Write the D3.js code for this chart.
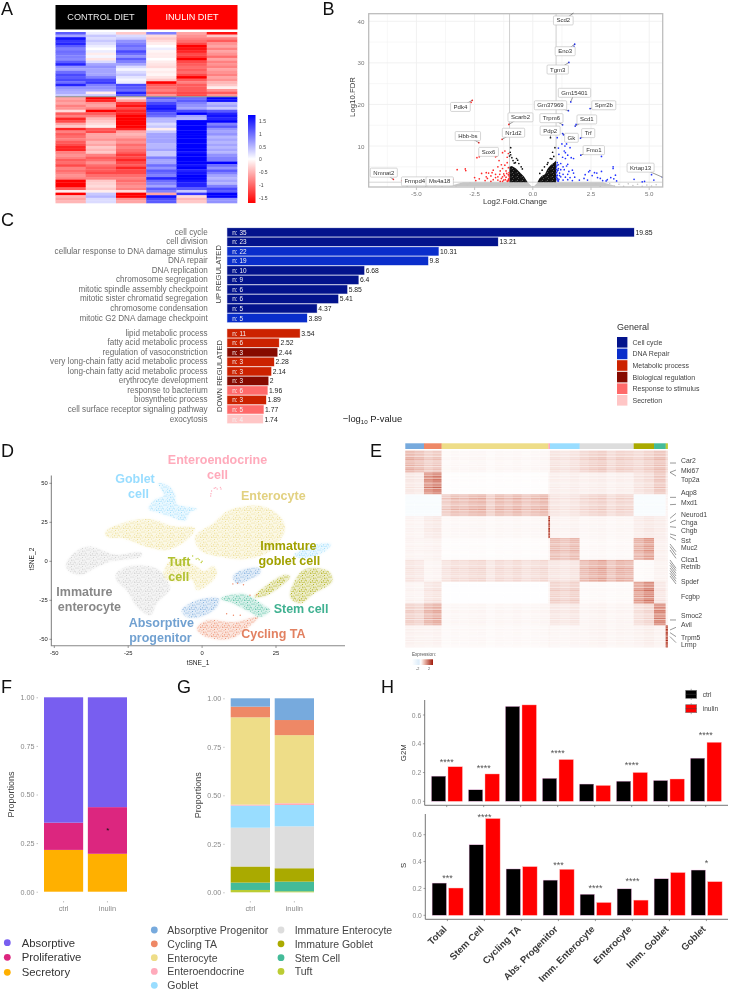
<!DOCTYPE html>
<html><head><meta charset="utf-8">
<script src="https://cdnjs.cloudflare.com/ajax/libs/d3/7.8.5/d3.min.js"></script>
<style>html,body{margin:0;padding:0;background:#fff}svg{display:block;filter:blur(.35px)}text{font-family:"Liberation Sans",Arial,sans-serif}</style>
</head><body><svg id="c" width="730" height="991"></svg>
<script>
// ---------- Panel A data
const hmA1=[.9,.5,1.3,1.1,1.2,.9,.7,.8,.75,.7,.65,.9,1.2,.6,.5,.8,1,.9,1,.8,1.2,.6,.5,.45,.3,-.5,-.6,-.5,-.7,-.6,-.2,-.9,-.7,-1.2,-1,-.5,-.3,-1.2,-.7,-.9,-.8,-.7,-.9,-1,-1.2,-1.2,-.7,-.6,-.7,-.9,-.8,-1,-.7,-.8,-.7,-.6,-.7,-1.4,-1.5,-1.5,-.9,-.1,-1.4,-.4,-.5,-.4];
const hmA2=[.1,.3,.2,.3,.2,.1,0,.1,-.1,.05,-.15,.2,.5,.6,.5,.5,.5,.7,1,1.1,.7,.6,.5,-.1,.3,-1.5,-1.2,-.6,-.5,-.7,-1.4,-.9,-.7,-.4,-.3,-.2,-.1,-.9,-1,-.5,-.5,-.6,-.4,-.5,-.3,-.4,-.3,-.7,-.9,-.8,-.6,-.8,-.9,-.9,-1,-.8,-.7,-.3,-.25,-.2,-.3,-.1,.3,.4,.2,.2];
const hmA3=[-.3,.2,.3,.6,.7,.8,.7,1,.8,.6,.9,.7,.5,.2,.05,.2,.3,.15,.05,.1,1,.9,.8,1.2,.9,-.2,-.5,-1.1,-1.3,-1,-1.2,-1.2,-1.5,-1.5,-1.4,-1.4,-1.5,-1.2,-.5,-.4,-.5,-.7,-.6,-.8,-.7,-.8,-.9,-1.1,-1,-1.2,-1,-.9,-1.2,-1,-1,-.8,-.7,-.8,-.7,-.6,-.7,-.2,-1.5,-1.5,-.6,-.5];
const hmA4=[.7,-.2,-.3,-.2,-.1,0,.1,-.05,-.1,-.1,0,-.1,-.15,-.2,-.05,-.1,-.05,-.15,-.3,-1.4,-.9,-.8,-.7,-.9,-.6,.9,.7,1,1.2,1.3,1.1,.9,.8,.4,.4,.2,.3,-.1,.3,.5,.5,.5,.5,.4,.4,.5,.3,.3,.7,.5,.5,.8,.6,.9,.8,.7,1.2,.8,.7,.5,.9,.7,-.5,1.3,1,.9];
const hmA5=[-.5,-.6,-.7,-.8,-1,-1.4,-1.3,-1.2,-1,-1.1,-1.4,-1,-.9,-.8,-.9,-.8,-1,-1.4,-.9,-.7,-.9,-.9,-.9,-1,-1,.8,.9,.7,.6,.5,1,1.4,.5,.4,1.5,1.5,1.6,1.5,1.5,1.5,1.4,1.4,1.5,1.5,1.5,1.4,1.3,1.4,1.5,1.5,1.4,1.3,1.4,1.2,1.3,1.4,1.5,1.3,1.2,1.2,.9,.3,1.1,-.2,-.4,-.3];
const hmA6=[-1.3,-.3,-.7,-.9,-.6,-.5,-.7,-.5,-.6,-.8,-.5,-.7,-.6,-.7,-.5,-.6,-.7,-.5,-.6,-.4,-.3,-.1,-.6,-.9,-.6,1.5,1.3,.4,.5,.3,.9,1.2,1.3,1.2,1.4,.7,.9,.6,.5,.6,.4,.5,.4,.5,.4,.5,.4,.6,.7,.7,1.4,.8,.6,.9,.7,.5,.4,.5,.4,.7,1,.9,1.4,1.6,.6,.6];
const hmATicks=[1.5,1,.5,0,-.5,-1,-1.5];
// ---------- Panel B data
const volBlue=[[1.75,42],[1.8,34.5],[1.77,34],[1.55,30.1],[1.63,20.6],[1.53,18.5],[2.46,19],[1.28,15.1],[1.82,14.8],[1.86,15.2],[1.28,13],[1.32,12.7],[2.05,11.9],[2.15,12.2],[1.05,12],[1.38,10],[1.25,10.5],[1.45,10.5],[1.1,9.5],[1.6,9.6],[1.35,8.8],[1.4,8.4],[2.06,7.8],[1.12,8],[1.5,7.8],[1.28,7.3],[1.4,7],[1.65,7.2],[1.75,7],[2.95,7.5],[1.05,6],[1.1,5.5],[1.2,5.8],[1.3,5],[1.5,5.6],[1.45,5.2],[1.02,5],[1.1,4.6],[1.2,4.3],[1.35,4.3],[1.55,3.9],[1.7,4.2],[1.05,4],[1.15,3.5],[1.3,3.2],[1.5,3.2],[1.75,3.5],[1.05,3],[1.2,2.6],[1.4,2.5],[1.6,2.4],[1.8,2.5],[1.02,2.4],[1.12,2],[1.3,1.8],[1.5,1.9],[1.7,1.7],[2,1.8],[1.1,1.6],[2.2,2.2],[2.25,3.1],[2.35,1.8],[2.4,3.8],[2.45,4.1],[2.55,2.9],[2.65,3.6],[2.75,3.5],[2.78,2.4],[2.9,2.2],[2.95,3.9],[3,1.7],[3.15,1.6],[3.2,1.9],[3.35,2.4],[3.45,4.6],[3.45,5],[3.48,2.1],[3.55,3],[3.6,1.6],[4.35,2],[4.7,1.4],[4.8,1.5],[5.1,3.1],[5.2,1.8],[5.57,2.5],[1.02,3.6],[1.03,2.8],[1.06,2.2],[1.08,1.6],[1.04,1.9],[1.15,2.9],[1.08,4.2],[1.02,4.4],[1.04,5.4]];
const volRed=[[-2.6,21],[-2.65,20.5],[-1.03,15.2],[-1.32,11.6],[-2.32,10.8],[-1.55,7.6],[-1.6,7.4],[-1.3,8.4],[-1.2,8.8],[-1.05,8.2],[-1.1,7.3],[-2.4,7.2],[-2.3,7.4],[-3.25,4.3],[-2.9,4.5],[-2.88,4.1],[-1.45,6.5],[-1.35,5.5],[-1.1,6],[-1.2,5.4],[-1.5,5],[-1.7,4.2],[-1.9,3.5],[-2,3.6],[-2.2,3.4],[-1.3,4.6],[-1.05,4.8],[-1.15,4],[-1.4,4],[-1.6,3.2],[-1.8,2.8],[-1.25,3.3],[-1.05,3.1],[-1.5,2.6],[-1.35,2.2],[-1.15,2.5],[-1.05,2],[-1.25,1.8],[-1.5,1.8],[-1.7,1.9],[-1.95,2.2],[-2.05,1.7],[-2.3,2.1],[-2.5,2.4],[-2.45,1.7],[-1.1,1.6],[-1.4,1.5],[-1.8,1.5],[-5.99,2],[-5.63,1.7],[-3.44,2],[-2,2.6],[-1.75,3.6],[-1.02,3.6],[-1.02,2.8],[-1.08,1.5],[-1.02,2.2],[-1.12,3.4],[-1.22,2.9],[-1.03,1.7],[-1.3,1.5],[-1.18,1.9],[-1.42,3.2],[-1.6,2.4],[-1.3,2.6]];
const volBlack=[[.76,12],[.95,9.6],[.85,8.5],[.9,7.5],[.75,7],[.65,6],[.5,5],[.4,4.2],[-.95,9.6],[-.97,8.5],[-1,7.6],[-.95,7.9],[-.7,7],[-.65,6.6],[-.6,5.8],[-.85,6.5],[-.75,6],[-.5,5],[-.45,4.5],[.3,3.4],[.62,5.6],[.82,6.9],[-.9,7.2],[-.8,5.9]];
const volGray=[[-5,.6],[-4.6,.3],[-4.2,.5],[-3.9,.2],[-3.6,.8],[-3.3,.4],[-3.1,1],[-2.8,.6],[3.1,.6],[3.3,1],[3.5,.4],[3.7,.8],[3.9,.3],[4.1,.9],[4.3,.5],[4.5,.8],[4.7,.3],[4.9,.6],[5.1,.4],[5.3,.7],[-5.4,.3],[2.7,.9],[2.9,.3],[-2.7,1.1]];
const volBlackAreaR=[[.2,1.3],[.28,2.2],[.38,2.8],[.52,3.2],[.64,4.6],[.76,5.4],[.9,6],[1,6.5],[1,1.3]];
const volBlackAreaL=[[-1,1.3],[-1,5],[-.9,5.2],[-.72,4.6],[-.58,3.8],[-.38,2.7],[-.22,1.3]];
const volGrayArea=[[-3,1.3],[-.22,1.3],[0,.05],[.22,1.3],[3,1.3],[3.6,.3],[-3.6,.3]];
const volLabels=[["Scd2",1.31,40.2,1.75,42],["Eno3",1.39,32.8,1.8,34.5],["Tgm3",1.07,28.4,1.55,30.1],["Gm15401",1.79,22.8,1.63,20.65],["Gm37969",.76,19.8,1.53,18.5],["Sprr2b",3.05,19.8,2.46,19],["Trpm6",.8,16.7,1.28,15.1],["Scd1",2.32,16.4,1.82,14.8],["Pdp2",.745,13.7,.76,12],["Trf",2.38,13.1,2.05,11.9],["Gk",1.66,11.98,1.28,13],["Fmo1",2.62,9,2.06,7.8],["Krtap13",4.63,4.8,5.57,2.5],["Pdk4",-3.11,19.4,-2.6,21],["Scarb2",-.53,16.9,-1.03,15.2],["Nr1d2",-.83,13.2,-1.32,11.6],["Hbb-bs",-2.79,12.4,-2.32,10.8],["Sox6",-1.9,8.6,-1.55,7.6],["Nmnat2",-6.4,3.6,-5.99,2],["Frmpd4",-5.07,1.5,-5.63,1.7],["Ms4a18",-4,1.5,-3.44,2]];
// ---------- Panel C data
const goUpTerms=["cell cycle","cell division","cellular response to DNA damage stimulus","DNA repair","DNA replication","chromosome segregation","mitotic spindle assembly checkpoint","mitotic sister chromatid segregation","chromosome condensation","mitotic G2 DNA damage checkpoint"];
const goUpValues=[19.85,13.21,10.31,9.8,6.68,6.4,5.85,5.41,4.37,3.89];
const goUpN=[35,23,22,19,10,9,6,6,5,5];
const goUpGroup=[0,0,1,1,0,0,0,0,0,1];
const goDownTerms=["lipid metabolic process","fatty acid metabolic process","regulation of vasoconstriction","very long-chain fatty acid metabolic process","long-chain fatty acid metabolic process","erythrocyte development","response to bacterium","biosynthetic process","cell surface receptor signaling pathway","exocytosis"];
const goDownValues=[3.54,2.52,2.44,2.28,2.14,2,1.96,1.89,1.77,1.74];
const goDownN=[11,6,3,3,3,3,6,3,5,4];
const goDownGroup=[2,2,3,2,2,3,4,2,4,5];
const goGroups=["Cell cycle","DNA Repair","Metabolic process","Biological regulation","Response to stimulus","Secretion"];
const goColors=["#03138c","#0a2ecb","#cc2200","#860a00","#ff6a6a","#ffc6c6"];
// ---------- Panel D data (outlines of the point clouds in tSNE coordinates)
const tsneColors={ap:"#77AADD",cy:"#EE8866",ec:"#EEDD88",ee:"#FFAABB",go:"#99DDFF",ie:"#DDDDDD",ig:"#AAAA00",st:"#44BB99",tu:"#BBCC33"};
const tsneClouds=[
["go",[[-14.8,50],[-11.4,48.5],[-9.2,43.2],[-8.6,36.8],[-5.2,35.1],[-1.8,33.6],[-4.1,31.5],[-5.7,26.1],[-10.8,28.7],[-15.3,31.5],[-18.1,33.6],[-16.4,39],[-13,42.2]]],
["go",[[31,4],[37.8,10.5],[43.6,11.2],[42.9,8.3],[37.8,3],[33.2,1.9]]],
["ec",[[-2.4,15.8],[3.8,24.4],[8.3,31.9],[13.9,35.1],[20.7,35.1],[26.4,28.7],[28.1,21.2],[26.4,13.7],[21.9,5.1],[14,1.3],[6,3],[-.7,7.3]]],
["ec",[[-32.8,19],[-25.4,25.4],[-17.5,27],[-9.6,22.4],[-2.4,21.2],[-5.2,13.7],[-12,7.3],[-18.8,9.4],[-26.8,14.7],[-32.2,15.8]]],
["ec",[[-13,-6.4],[-9.6,1.9],[-1.8,-3.4],[.5,-6.4],[3.8,-3],[5,-7.7],[2.7,-14.1],[-1.8,-18.4],[-3.4,-12],[-8.5,-13],[-13,-10.9]]],
["ie",[[-46,-1.3],[-42,7.3],[-37.5,9.4],[-29.6,4.3],[-20.6,5.6],[-20.6,3],[-31,-.2],[-36.4,-4.5],[-41,-8.8],[-45.5,-5.6]]],
["ie",[[-29,-7.7],[-24.5,-3],[-15.5,-4.5],[-12,-12],[-10.8,-17.5],[-15.3,-27],[-17.5,-34.6],[-22,-29.3],[-25.6,-18.6],[-29,-12]]],
["ap",[[10.4,-9.8],[13.4,-5.6],[19.6,-4.5],[19.6,-7.7],[15.7,-12],[11.6,-14.1]]],
["ap",[[-6.9,-31.4],[-1.8,-25],[5.6,-23.9],[5,-29.3],[-.7,-35.7],[-5.2,-35.7]]],
["cy",[[-1.8,-43.2],[1.6,-37.8],[10.6,-38.9],[19,-35.7],[15,-43.2],[9.5,-49.7],[1.6,-48.6]]],
["st",[[6.2,-24],[14,-21],[20.7,-28],[23,-31.4],[19.6,-35.7],[16.2,-32.5],[10.6,-27]]],
["ig",[[17.5,-22.9],[27.6,-8.8],[29.8,-9.8],[22,-21.8]]],
["ig",[[29.8,-22.9],[34.3,-5.6],[42.9,-6.6],[44,-13],[37.8,-20.7],[33.2,-27]]]
];
const tsneExtras=[["ee",[[2.9,41.9],[3.2,45.1],[4.1,46.8],[5.1,46.3],[6.2,47.4],[6.4,46.3],[3,43.3],[4.6,47.2]]],["tu",[[-2,1.5],[-1,1],[0,0],[-3.2,3.4],[-1.4,1.9],[-.3,-.8]]],["cy",[[10.4,-14.5],[12,-14.1],[14,-15],[16.2,-21.8],[18.5,-21.4],[8.3,-33.6],[10.6,-34.6],[12.9,-34.6]]]];
const tsneXTicks=[-50,-25,0,25];
const tsneYTicks=[-50,-25,0,25,50];
const tsneLabels=[["Goblet",-22.7,52.6,"go"],["cell",-21.5,43.1,"go"],["Enteroendocrine",5.2,65.1,"ee"],["cell",5.2,55.3,"ee"],["Enterocyte",24.1,41.9,"ec"],["Immature",29.2,10,"ig"],["goblet cell",29.5,.2,"ig"],["Tuft",-7.8,-.4,"tu"],["cell",-7.9,-10.3,"tu"],["Immature",-39.8,-19.5,"#888"],["enterocyte",-38.1,-29.1,"#888"],["Stem cell",33.5,-30.4,"st"],["Absorptive",-13.8,-39.4,"ap"],["progenitor",-14.1,-49.2,"ap"],["Cycling TA",24.1,-46.6,"cy"]];
// ---------- Panel E data
const rowBlocks=["ap","cy","ec","ee","go","ie","ig","st","tu"];
const colBlocks=["ap","cy","ec","ee","go","ie","ig","st","tu"];
const colWidths=[56,53,320,5,89,162,61,35,6];
const exprAP=[.62,.5,.07,.1,.24,.42,.42,.5,.3];
const exprCY=[.2,1.12,.02,.1,.14,.14,.3,.45,.2];
const exprEC=[-.2,-.2,.58,.3,.22,.38,-.2,-.2,.1];
const exprEE=[.1,.2,.07,1.5,.1,.08,.2,.15,.1];
const exprGO=[.1,.12,.03,.1,.55,.06,.85,.12,.1];
const exprIE=[.22,.1,.3,.2,.22,.68,.05,.1,.1];
const exprIG=[.1,.25,-.03,.1,.38,.05,1.05,.2,.1];
const exprST=[.4,.72,.08,.1,.2,.1,.35,.95,.1];
const exprTU=[.12,.12,.06,.1,.08,.1,.15,.1,1.5];
const rowTexture=[1.15,.8,1.05,.65,1.2,.9,.55,1.1,.85,1.25,.7,1,.6,1.15,.95,.75,1.3,.5,1,.85,1.2,.65,1.05,.9];
const colTexture=[1.05,.9,1.1,.85,1,1.12,.78,1,.92,1.08,1.15,.72];
const geneNames=["Car2","Mki67","Top2a","Aqp8","Mxd1","Neurod1","Chga","Chgb","Sst","Muc2","Clca1","Retnlb","Spdef","Fcgbp","Smoc2","Avil","Trpm5","Lrmp"];
const genePos=[30,60,85,126,154,190,214,238,268,290,326,347,393,439,496,521,561,581];
const geneLinks=[[37,37],[65,58],[65,76],[140,140],[162,161],[203,188],[216,208],[228,230],[250,255],[258,268],[280,303],[288,313],[298,323],[328,353],[336,360],[344,368],[352,376],[360,384],[368,392],[376,400],[508,508],[538,530],[546,558],[558,576]];
// ---------- Panel F data
const propGroups=["ctrl","inulin"];
const fAbsorptive=[.645,.565];
const fProliferative=[.14,.24];
const fSecretory=[.215,.195];
const fNames=["Secretory","Proliferative","Absorptive"];
const fColors=["#FFB000","#DC267F","#785EF0"];
const propTicks=[0,.25,.5,.75,1];
// ---------- Panel G data
const gTuft=[.012,.005];
const gStem=[.038,.05];
const gImmGoblet=[.083,.069];
const gImmEnterocyte=[.2,.216];
const gGoblet=[.114,.11];
const gEnteroendocrine=[.005,.009];
const gEnterocyte=[.45,.351];
const gCycling=[.055,.078];
const gAbsProg=[.043,.112];
const gNames=["Absorptive Progenitor","Cycling TA","Enterocyte","Enteroendocrine","Goblet","Immature Enterocyte","Immature Goblet","Stem Cell","Tuft"];
const gColors=["#77AADD","#EE8866","#EEDD88","#FFAABB","#99DDFF","#DDDDDD","#AAAA00","#44BB99","#BBCC33"];
// ---------- Panel H data
const hCats=["Total","Stem Cell","Cycling TA","Abs. Progenitor","Imm. Enterocyte","Enterocyte","Imm. Goblet","Goblet"];
const g2mCtrl=[.175,.08,.66,.16,.12,.14,.145,.30];
const g2mInulin=[.24,.19,.67,.29,.11,.20,.155,.41];
const sCtrl=[.24,.525,.345,.262,.157,.197,.272,.337];
const sInulin=[.203,.72,.362,.342,.095,.113,.318,.25];
const g2mStars=[["****",.287],["****",.245],null,["****",.352],null,["****",.269],null,["****",.477]];
const sStars=[["***",.295],["****",.75],null,["***",.39],["****",.22],["****",.27],null,["*",.405]];

const svg=d3.select("#c");
const defs=svg.append("defs");
const T=(g,x,y,s,o={})=>g.append("text").attr("x",x).attr("y",y).text(s)
  .attr("font-size",o.size||7).attr("fill",o.fill||"#333").attr("text-anchor",o.anchor||"start")
  .attr("dominant-baseline",o.base||"central").attr("font-weight",o.weight||"normal")
  .attr("font-family",o.family||null).attr("transform",o.rot?`rotate(${o.rot},${x},${y})`:null);
// Panel letters
[["A",1,14.7],["B",322.5,14.7],["C",1,226],["D",1,456.7],["E",370,457.3],["F",1,692.7],["G",177,692.7],["H",381,692.7]]
 .forEach(d=>T(svg,d[1],d[2],d[0],{size:18,fill:"#111",base:"auto",family:"'Open Sans',sans-serif"}));

// ===== A
(function(){
 const g=svg.append("g");
 const cols=[hmA1,hmA2,hmA3,hmA4,hmA5,hmA6];
 const nr=hmA1.length;
 const x=d3.scaleBand().domain(d3.range(6)).range([55.5,237]);
 const y=d3.scaleBand().domain(d3.range(nr)).range([32,203]);
 const col=d3.scaleLinear().domain([-1.4,0,1.4]).range(["#ff0000","#ffffff","#0000ff"]).clamp(true);
 cols.forEach((c,i)=>g.selectAll(null).data(c).join("rect").attr("x",x(i)).attr("width",x.bandwidth()+.3)
   .attr("y",(d,r)=>y(r)).attr("height",y.bandwidth()+.3).attr("fill",d=>col(d)));
 g.append("rect").attr("x",55.5).attr("width",181.5).attr("y",y(25)-.7).attr("height",1.2).attr("fill","#999");
 g.append("rect").attr("x",55.5).attr("y",5).attr("width",91.5).attr("height",24.5).attr("fill","#000");
 g.append("rect").attr("x",147).attr("y",5).attr("width",90.5).attr("height",24.5).attr("fill","#ff0000");
 T(g,101,17,"CONTROL DIET",{size:9.1,fill:"#e8e8e8",anchor:"middle",family:"'Open Sans',sans-serif"});
 T(g,192,17,"INULIN DIET",{size:9.1,fill:"#fff",anchor:"middle",family:"'Open Sans',sans-serif"});
 const gr=defs.append("linearGradient").attr("id","hmg").attr("x1",0).attr("x2",0).attr("y1",0).attr("y2",1);
 [[0,"#0000ff"],[.5,"#ffffff"],[1,"#ff0000"]].forEach(s=>gr.append("stop").attr("offset",s[0]).attr("stop-color",s[1]));
 g.append("rect").attr("x",248).attr("y",115).attr("width",7.5).attr("height",88).attr("fill","url(#hmg)");
 const ly=d3.scaleLinear().domain([1.5,-1.5]).range([121,197.5]);
 hmATicks.forEach(v=>T(g,259,ly(v),String(v),{size:5,fill:"#444"}));
})();

// ===== B
(function(){
 const g=svg.append("g");
 const x=d3.scaleLinear().domain([-7.05,5.58]).range([368.7,662.7]);
 const y=d3.scaleLinear().domain([0,40]).range([187.6,21.3]);
 const t=187,b=13.7;
 defs.append("clipPath").attr("id","vc").append("rect").attr("x",368.7).attr("y",13.7).attr("width",294).attr("height",173.3);
 const sp=defs.append("pattern").attr("id","blk").attr("patternUnits","userSpaceOnUse").attr("width",5).attr("height",4);
 sp.append("rect").attr("width",5).attr("height",4).attr("fill","#111");
 [[1,1],[3.6,2.8],[2.4,.4]].forEach(p=>sp.append("circle").attr("cx",p[0]).attr("cy",p[1]).attr("r",.32).attr("fill","#fff"));
 const pg=g.append("g").attr("clip-path","url(#vc)");
 d3.range(-7.5,5.6,1.25).forEach(v=>{pg.append("line").attr("x1",x(v)).attr("x2",x(v)).attr("y1",b).attr("y2",t).attr("stroke","#efefef").attr("stroke-width",Number.isInteger(v/2.5)?.9:.5);});
 d3.range(0,45,5).forEach(v=>{pg.append("line").attr("y1",y(v)).attr("y2",y(v)).attr("x1",368.7).attr("x2",662.7).attr("stroke","#efefef").attr("stroke-width",v%10==0?.9:.5);});
 [-1,1].forEach(v=>pg.append("line").attr("x1",x(v)).attr("x2",x(v)).attr("y1",b).attr("y2",t).attr("stroke","#c4c4c4").attr("stroke-width",.8));
 pg.append("line").attr("y1",y(1.3)).attr("y2",y(1.3)).attr("x1",368.7).attr("x2",662.7).attr("stroke","#c4c4c4").attr("stroke-width",.7);
 const line=d3.line().x(d=>x(d[0])).y(d=>y(d[1])).curve(d3.curveLinearClosed);
 pg.append("path").attr("d",line(volGrayArea)).attr("fill","#c6c6c6");
 const dots=(a,c,r)=>pg.selectAll(null).data(a).join("circle").attr("cx",d=>x(d[0])).attr("cy",d=>y(d[1])).attr("r",r).attr("fill",c);
 dots(volGray,"#c4c4c4",.8);
 pg.append("path").attr("d",line(volBlackAreaR)).attr("fill","url(#blk)");
 pg.append("path").attr("d",line(volBlackAreaL)).attr("fill","url(#blk)");
 dots(volBlack,"#111",.85); dots(volBlue,"#2233ff",.85); dots(volRed,"#ff2a2a",.85);
 g.append("rect").attr("x",368.7).attr("y",13.7).attr("width",294).attr("height",173.3).attr("fill","none").attr("stroke","#bdbdbd").attr("stroke-width",1.3);
 volLabels.forEach(d=>{
  g.append("line").attr("x1",x(d[1])).attr("y1",y(d[2])).attr("x2",x(d[3])).attr("y2",y(d[4])).attr("stroke","#333").attr("stroke-width",.5);
 });
 volLabels.forEach(d=>{
  const gg=g.append("g");
  const r=gg.append("rect"); const tx=T(gg,x(d[1]),y(d[2]),d[0],{size:6,fill:"#333",anchor:"middle"});
  const w=tx.node().getComputedTextLength()+6;
  r.attr("x",x(d[1])-w/2).attr("y",y(d[2])-4.5).attr("width",w).attr("height",9).attr("rx",1).attr("fill","#fff").attr("stroke","#bbb").attr("stroke-width",.6);
 });
 [-5,-2.5,0,2.5,5].forEach(v=>{g.append("line").attr("x1",x(v)).attr("x2",x(v)).attr("y1",187.6).attr("y2",190).attr("stroke","#888").attr("stroke-width",.5);T(g,x(v),193.5,v.toFixed(1),{size:6.2,fill:"#777",anchor:"middle"});});
 [10,20,30,40].forEach(v=>{T(g,364.5,y(v),v,{size:6.2,fill:"#777",anchor:"end"});});
 T(g,515,201.5,"Log2.Fold.Change",{size:7.8,fill:"#333",anchor:"middle"});
 T(g,352,97,"Log10.FDR",{size:7.8,fill:"#333",anchor:"middle",rot:-90});
})();

// ===== C
(function(){
 const g=svg.append("g");
 const x=d3.scaleLinear().domain([0,19.85]).range([227.3,634]);
 const draw=(terms,vals,ns,grp,r0,r1)=>{
  const y=d3.scalePoint().domain(terms).range([r0,r1]);
  terms.forEach((t,i)=>{
   g.append("rect").attr("x",x(0)).attr("y",y(t)-4.2).attr("width",x(vals[i])-x(0)).attr("height",8.4)
    .attr("fill",goColors[grp[i]]).attr("stroke",goColors[grp[i]]).attr("stroke-opacity",.35).attr("stroke-width",.8);
   T(g,207.7,y(t),t,{size:8.15,fill:"#6a6a6a",anchor:"end"});
   T(g,x(0)+5,y(t),"n: "+ns[i],{size:6.4,fill:"#f2f2f2"});
   T(g,x(vals[i])+1.5,y(t),vals[i],{size:6.8,fill:"#222"});
  });
 };
 draw(goUpTerms,goUpValues,goUpN,goUpGroup,232.3,318);
 draw(goDownTerms,goDownValues,goDownN,goDownGroup,333.3,419);
 T(g,219,274.3,"UP REGULATED",{size:7.6,fill:"#444",anchor:"middle",rot:-90});
 T(g,219,376,"DOWN REGULATED",{size:7.6,fill:"#444",anchor:"middle",rot:-90});
 T(g,617,326.7,"General",{size:9,fill:"#333"});
 const ly=d3.scalePoint().domain(goGroups).range([342.3,400.3]);
 goGroups.forEach((n,i)=>{g.append("rect").attr("x",617).attr("y",ly(n)-5.3).attr("width",10.4).attr("height",10.6).attr("fill",goColors[i]);T(g,632.5,ly(n),n,{size:7,fill:"#444"});});
 const lt=T(g,372.5,418,"",{size:9.4,fill:"#222",anchor:"middle"});
 lt.append("tspan").text("−log");lt.append("tspan").text("10").attr("font-size",6.2).attr("dy",2.5);lt.append("tspan").text(" P-value").attr("dy",-2.5);
})();

// ===== D
(function(){
 const g=svg.append("g");
 const x=d3.scaleLinear().domain([-50,25]).range([54.3,276]);
 const y=d3.scaleLinear().domain([-50,50]).range([639.3,483.3]);
 defs.append("filter").attr("id","soft").attr("x","-10%").attr("y","-10%").attr("width","120%").attr("height","120%").append("feGaussianBlur").attr("stdDeviation",1.3);
 const tile=[[1,1],[4,.5],[7.5,2],[10,1],[2.5,3.5],[6,4],[9,4.5],[.5,6],[4,6.5],[7,6.5],[10.5,7],[2,8.5],[5.5,8.5],[8.5,8.7],[3,2],[5.8,2.2],[8.6,3],[1.2,4.8],[4.4,4.8],[7.6,5],[9.6,5.8],[2.6,6.2],[5.6,6.4],[8.8,7.2]];
 Object.entries(tsneColors).forEach(([k,c])=>{
  const p=defs.append("pattern").attr("id","sp-"+k).attr("patternUnits","userSpaceOnUse").attr("width",11).attr("height",9);
  tile.forEach((t,i)=>p.append("circle").attr("cx",t[0]).attr("cy",t[1]).attr("r",i%3==0?.6:.42).attr("fill",d3.color(c).darker(k=="ie"?.25:.05)));
 });
 const line=d3.line().x(d=>x(d[0])).y(d=>y(d[1])).curve(d3.curveCatmullRomClosed);
 tsneClouds.forEach(([k,pts])=>{
  g.append("path").attr("d",line(pts)).attr("fill",tsneColors[k]).attr("fill-opacity",k=="ie"?.32:.22).attr("filter","url(#soft)");
  g.append("path").attr("d",line(pts)).attr("fill",`url(#sp-${k})`);
 });
 tsneExtras.forEach(([k,pts])=>g.selectAll(null).data(pts).join("circle").attr("cx",d=>x(d[0])).attr("cy",d=>y(d[1])).attr("r",.7).attr("fill",tsneColors[k]));
 g.append("path").attr("d","M"+x(-51)+","+y(55)+"V645.7H345").attr("fill","none").attr("stroke","#888").attr("stroke-width",1.1);
 tsneXTicks.forEach(v=>{g.append("line").attr("x1",x(v)).attr("x2",x(v)).attr("y1",645.7).attr("y2",648).attr("stroke","#555").attr("stroke-width",.6);T(g,x(v),653,v,{size:5.8,fill:"#222",anchor:"middle"});});
 tsneYTicks.forEach(v=>{g.append("line").attr("x1",49.4).attr("x2",51.7).attr("y1",y(v)).attr("y2",y(v)).attr("stroke","#555").attr("stroke-width",.6);T(g,47.7,y(v),v,{size:5.8,fill:"#222",anchor:"end"});});
 T(g,198,662.7,"tSNE_1",{size:6.6,fill:"#222",anchor:"middle"});
 T(g,31.7,559,"tSNE_2",{size:6.6,fill:"#222",anchor:"middle",rot:-90});
 tsneLabels.forEach(d=>T(g,x(d[1]),y(d[2]),d[0],{size:12.5,weight:"bold",fill:tsneColors[d[3]]?d3.color(tsneColors[d[3]]).darker(d[3]=="ee"||d[3]=="go"?0:.15):d[3],anchor:"middle"}));
})();

// ===== E
(function(){
 const g=svg.append("g");
 const matrix=[exprAP,exprCY,exprEC,exprEE,exprGO,exprIE,exprIG,exprST,exprTU];
 const totalW=d3.sum(colWidths);
 const xs=d3.scaleLinear().domain([0,totalW]).range([405.3,667.7]);
 const ys=d3.scaleLinear().domain([0,590]).range([450.7,647.3]);
 const col=d3.scaleLinear().domain([-2,0,1,2]).range(["#bddcf5","#ffffff","#dd8d7c","#a01a0a"]).clamp(true);
 const sub=rowTexture.length, rowH=590/rowBlocks.length/sub;
 let cum=0;
 colBlocks.forEach((c,ci)=>{
  const w=colWidths[ci];
  g.append("rect").attr("x",xs(cum)).attr("y",443.3).attr("width",xs(w)-xs(0)+.2).attr("height",5.7).attr("fill",tsneColors[c]);
  const nsub=Math.max(1,Math.round(w/26));
  rowBlocks.forEach((rb,ri)=>{
   rowTexture.forEach((tv,si)=>{
    d3.range(nsub).forEach(k=>{
     const v=matrix[ri][ci]*(matrix[ri][ci]>0?tv*colTexture[(k+ci*3)%colTexture.length]:1);
     g.append("rect").attr("x",xs(cum+k*w/nsub)).attr("width",xs(w/nsub)-xs(0)+.2)
      .attr("y",ys((ri*sub+si)*rowH)).attr("height",ys(rowH)-ys(0)+.2).attr("fill",col(v));
    });
   });
  });
  cum+=w;
 });
 geneLinks.forEach(d=>g.append("line").attr("x1",670).attr("x2",676).attr("y1",ys(d[0])).attr("y2",ys(d[1])).attr("stroke","#444").attr("stroke-width",.55));
 geneNames.forEach((n,i)=>T(g,681,ys(genePos[i]),n,{size:6.8,fill:"#444"}));
 T(g,424,654.7,"Expression:",{size:4.6,fill:"#555",anchor:"middle"});
 const lg=d3.scaleLinear().domain([-2,2]).range([417.7,429]);
 const gr=defs.append("linearGradient").attr("id","eg");
 [[0,"#ffffff"],[.33,"#dcecf9"],[.42,"#ffffff"],[.6,"#e9b7aa"],[1,"#a01a0a"]].forEach(s=>gr.append("stop").attr("offset",s[0]).attr("stop-color",s[1]));
 g.append("rect").attr("x",412).attr("y",659.3).attr("width",21).attr("height",5.7).attr("fill","url(#eg)");
 [-2,2].forEach(v=>T(g,lg(v),668.7,v,{size:3.8,fill:"#555",anchor:"middle"}));
})();

// ===== F & G
function stacked(series,colors,xr,xBar,yr){
 const g=svg.append("g");
 const x=d3.scaleBand().domain(propGroups).range(xr).paddingInner(xBar);
 const y=d3.scaleLinear().domain([0,1]).range(yr);
 const rows=propGroups.map((p,i)=>Object.fromEntries(series.map((s,j)=>[j,s[i]])));
 const st=d3.stack().keys(series.map((s,j)=>j))(rows);
 st.forEach((lay,j)=>lay.forEach((d,i)=>g.append("rect").attr("x",x(propGroups[i])).attr("width",x.bandwidth())
   .attr("y",y(d[1])).attr("height",y(d[0])-y(d[1])).attr("fill",colors[j])));
 const ax=g.append("g").attr("transform",`translate(${xr[0]-6},0)`).call(d3.axisLeft(y).tickValues(propTicks).tickFormat(d3.format(".2f")).tickSize(1.5));
 ax.select(".domain").remove();ax.selectAll("line").attr("stroke","#888").attr("stroke-width",.5);
 ax.selectAll("text").attr("font-size",7.2).attr("fill","#888").attr("font-family",null).attr("dx",1);
 propGroups.forEach(p=>{const c=x(p)+x.bandwidth()/2;g.append("line").attr("x1",c).attr("x2",c).attr("y1",901).attr("y2",902.5).attr("stroke","#888").attr("stroke-width",.5);T(g,c,908,p,{size:7.4,fill:"#888",anchor:"middle"});});
 T(g,xr[0]-33,(yr[0]+yr[1])/2,"Proportions",{size:9,fill:"#444",anchor:"middle",rot:-90});
 return {g,x,y};
}
(function(){
 const p=stacked([fSecretory,fProliferative,fAbsorptive],fColors,[44,127],.107,[891.7,697.3]);
 T(p.g,107.7,830.5,"*",{size:8,fill:"#111",anchor:"middle"});
 const ly=[942.7,957.3,972.3];
 ["Absorptive","Proliferative","Secretory"].forEach((n,i)=>{
  p.g.append("circle").attr("cx",7.3).attr("cy",ly[i]).attr("r",3.4).attr("fill",fColors[fNames.indexOf(n)]);
  T(p.g,21.7,ly[i],n,{size:11.3,fill:"#333"});
 });
})();
(function(){
 const order=[gTuft,gStem,gImmGoblet,gImmEnterocyte,gGoblet,gEnteroendocrine,gEnterocyte,gCycling,gAbsProg];
 const cols=[gColors[8],gColors[7],gColors[6],gColors[5],gColors[4],gColors[3],gColors[2],gColors[1],gColors[0]];
 const p=stacked(order,cols,[230.7,314],.107,[892.3,698.3]);
 const ly=d3.scalePoint().domain(d3.range(5)).range([930,985.3]);
 gNames.forEach((n,i)=>{
  const c=i<5?0:1,r=i<5?i:i-5;
  p.g.append("circle").attr("cx",c?281:154.3).attr("cy",ly(r)).attr("r",3.4).attr("fill",gColors[i]);
  T(p.g,c?294.7:167.3,ly(r),n,{size:10.5,fill:"#444"});
 });
})();

// ===== H
function barsH(ctrl,inul,stars,xr,yr,yTop,axisY,axisX,name,nameY,showLab){
 const g=svg.append("g");
 const x=d3.scaleBand().domain(hCats).range(xr);
 const xi=d3.scaleBand().domain(["ctrl","inulin"]).range([3.2,34.2]).paddingInner(.133);
 const y=d3.scaleLinear().domain([0,.6]).range(yr);
 hCats.forEach((c,i)=>{
  [["ctrl",ctrl[i],"#000","#fbe"],["inulin",inul[i],"#ff0000","#ffb0b0"]].forEach(b=>
   g.append("rect").attr("x",x(c)+xi(b[0])).attr("width",xi.bandwidth()).attr("y",y(b[1])).attr("height",y(0)-y(b[1])).attr("fill",b[2]).attr("stroke",b[3]).attr("stroke-width",.4));
  if(stars[i])T(g,x(c)+18.5,y(stars[i][1])+2,stars[i][0],{size:9,fill:"#555",anchor:"middle"});
  const cx=x(c)+x.bandwidth()/2;
  g.append("line").attr("x1",cx).attr("x2",cx).attr("y1",axisY).attr("y2",axisY+1.8).attr("stroke","#555").attr("stroke-width",.6);
  if(showLab)T(g,cx-2.5,axisY+8,c,{size:9.6,weight:"bold",fill:"#3a3a3a",anchor:"end",rot:-45,base:"central"});
 });
 g.append("path").attr("d",`M${axisX},${yTop}V${axisY}H728`).attr("fill","none").attr("stroke","#666").attr("stroke-width",.9);
 [0,.2,.4,.6].forEach(v=>{g.append("line").attr("x1",axisX-1.8).attr("x2",axisX).attr("y1",y(v)).attr("y2",y(v)).attr("stroke","#666").attr("stroke-width",.6);T(g,axisX-3.4,y(v),v.toFixed(1),{size:6.8,fill:"#888",anchor:"end"});});
 T(g,403.7,nameY,name,{size:7.8,fill:"#333",anchor:"middle",rot:-90});
}
barsH(g2mCtrl,g2mInulin,g2mStars,[428.2,724.2],[801.3,715],700,805.3,424.7,"G2M",752.7,false);
barsH(sCtrl,sInulin,sStars,[428.9,724.9],[915.3,834.7],814,919.3,425.3,"S",865.3,true);
(function(){
 const g=svg.append("g");
 [["ctrl","#000",694.3],["inulin","#ff0000",708.7]].forEach(d=>{
  g.append("line").attr("x1",691.2).attr("x2",691.2).attr("y1",d[2]-5.5).attr("y2",d[2]+5.5).attr("stroke","#555").attr("stroke-width",.5);
  g.append("rect").attr("x",685.7).attr("y",d[2]-4).attr("width",11).attr("height",8).attr("fill",d[1]).attr("stroke","#777").attr("stroke-width",.6);
  g.append("line").attr("x1",685.7).attr("x2",696.7).attr("y1",d[2]).attr("y2",d[2]).attr("stroke","#444").attr("stroke-width",.5);
  T(g,702.7,d[2],d[0],{size:6.6,fill:"#444"});
 });
})();
</script></body></html>
